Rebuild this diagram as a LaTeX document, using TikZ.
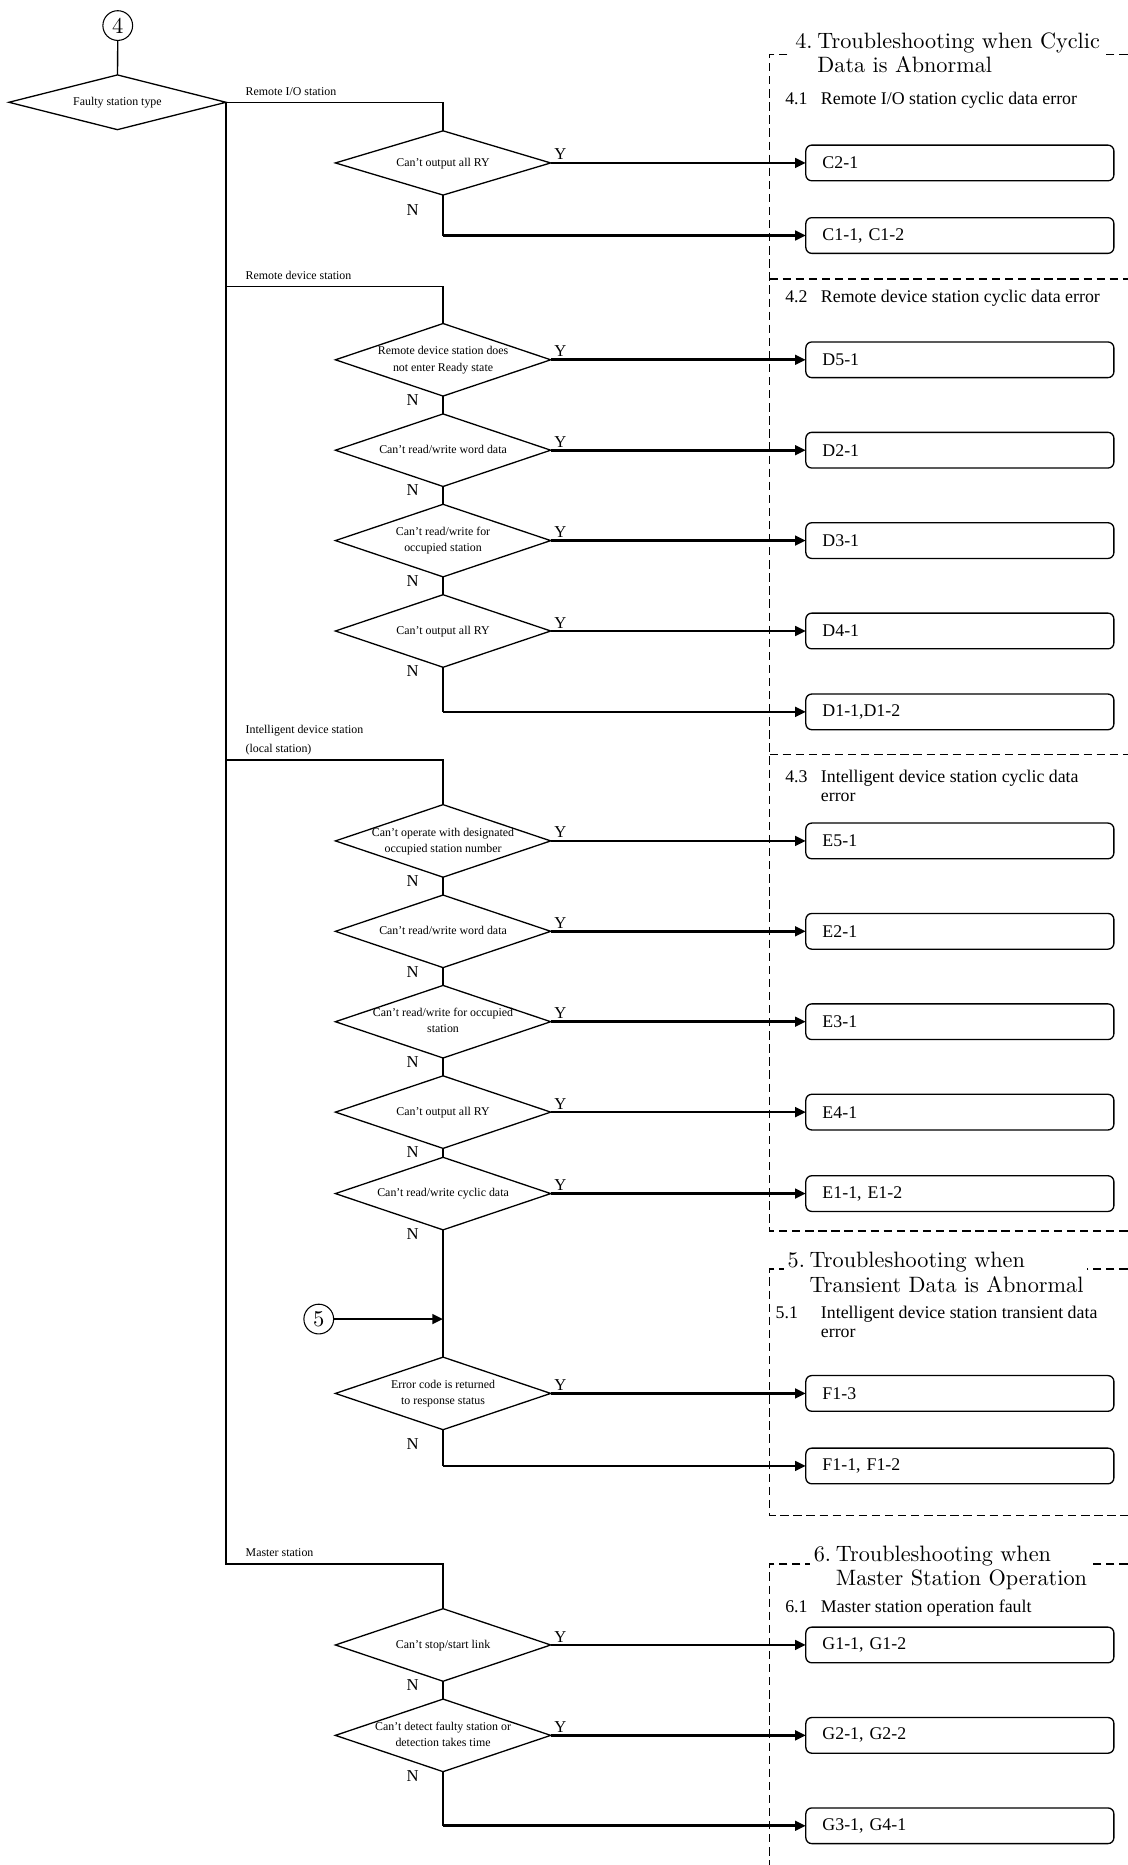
\documentclass[tikz,border=0pt]{standalone}
\usepackage{fontspec}
\newfontfamily\tnr{Liberation Serif}
\newfontfamily\ttlfont{lmroman10-regular}[Extension=.otf]
\usetikzlibrary{arrows.meta,shapes.geometric,positioning}
\newcommand{\dtxt}[1]{\makebox[0pt]{\begin{tabular}{@{}c@{}}#1\end{tabular}}}

\begin{document}
\begin{tikzpicture}[x=1pt, y=-1pt,
        dec/.style={diamond, draw, line width=1.1pt, inner sep=0pt, outer sep=0pt,
          minimum width=181pt, minimum height=61pt, font=\tnr\fontsize{10}{13.5}\selectfont},
        res/.style={draw, line width=1.1pt, rounded corners=5pt, outer sep=0pt,
          text width=231pt, inner xsep=14pt, minimum height=30pt, align=left,
          font=\tnr\fontsize{15}{16}\selectfont},
        num/.style={circle, draw, line width=0.9pt, minimum size=25pt, inner sep=0pt,
          font=\ttlfont\fontsize{19}{19}\selectfont},
        flow/.style={line width=1.1pt},
        yes/.style={line width=2.3pt, -{Triangle[length=9pt, width=8pt]}},
        sec/.style={line width=1.1pt, dash pattern=on 7pt off 4pt},
        ylab/.style={pos=0, anchor=base west, inner sep=0pt, xshift=2pt, yshift=2.5pt,
          font=\tnr\fontsize{14}{14}\selectfont},
        nlab/.style={pos=0, anchor=base east, inner sep=0pt, xshift=-20pt, yshift=-8pt,
          font=\tnr\fontsize{14}{14}\selectfont},
        brlab/.style={pos=0, anchor=base west, inner sep=0pt, xshift=16pt, yshift=6pt,
          font=\tnr\fontsize{10}{16}\selectfont},
        ttl/.style={anchor=base west, fill=white, inner xsep=3pt, inner ysep=2pt,
          font=\ttlfont\fontsize{18.7}{20.5}\selectfont},
        sub/.style={anchor=base west, inner sep=0pt, font=\tnr\fontsize{15}{16}\selectfont}
        ]
        \useasboundingbox (0,0) rectangle (948,1568);
        \coordinate (col) at (677.5,0);

        % troubleshooting sections
        \draw[sec] (948,46) -- (647,46) -- (647,1035) -- (948,1035);
        \draw[sec] (647,234.5) -- (948,234.5);
        \draw[sec] (647,634.5) -- (948,634.5);
        \draw[sec] (948,1067) -- (647,1067) -- (647,1274) -- (948,1274);
        \draw[sec] (948,1315) -- (647,1315) -- (647,1568);
        \node[ttl] (t4) at (665.5,40.5) {\begin{tabular}[t]{@{}l@{\hspace{4pt}}l@{}}4. & Troubleshooting when Cyclic\\ & Data is Abnormal\end{tabular}};
        \node[ttl] (t5) at (659,1066) {\begin{tabular}[t]{@{}l@{\hspace{4pt}}l@{}}5. & Troubleshooting when\\ & Transient Data is Abnormal\end{tabular}};
        \node[ttl] (t6) at (681,1312.5) {\begin{tabular}[t]{@{}l@{\hspace{4pt}}l@{}}6. & Troubleshooting when\\ & Master Station Operation\end{tabular}};
        \node[sub] (s41) at (660,87.7) {\begin{tabular}[t]{@{}p{30pt}@{}l@{}}4.1 & Remote I/O station cyclic data error\end{tabular}};
        \node[sub] (s42) at (660,254.3) {\begin{tabular}[t]{@{}p{30pt}@{}l@{}}4.2 & Remote device station cyclic data error\end{tabular}};
        \node[sub] (s43) at (660,658) {\begin{tabular}[t]{@{}p{30pt}@{}l@{}}4.3 & Intelligent device station cyclic data\\ & error\end{tabular}};
        \node[sub] (s51) at (652,1108.6) {\begin{tabular}[t]{@{}p{38pt}@{}l@{}}5.1 & Intelligent device station transient data\\ & error\end{tabular}};
        \node[sub] (s61) at (660,1356) {\begin{tabular}[t]{@{}p{30pt}@{}l@{}}6.1 & Master station operation fault\end{tabular}};

        % station type
        \node[num] (c4) at (99,21.5) {4};
        \node[dec, minimum width=182.5pt, minimum height=46pt] (fst) at (98.75,86) {\dtxt{Faulty station type}};
        \draw[flow] (c4) -- (fst);

        % remote I/O station
        \node[dec, minimum height=54pt] (rio) at (372.5,137) {\dtxt{Can’t output all RY}};
        \node[res, anchor=west] (c2r) at (rio -| col) {C2-1};
        \node[res, below=31pt of c2r] (c1r) {C1-1, C1-2};
        \coordinate (rion) at (rio.south |- c1r.west);
        \draw[flow] (fst.east) -- node[brlab]{Remote I/O station} (rio.north |- fst.east) -- (rio.north);
        \draw[yes] (rio.east) -- node[ylab]{Y} (c2r.west);
        \draw[flow] (rio.south) -- node[nlab, yshift=-9pt]{N} (rion);
        \draw[yes] (rion) -- (c1r.west);

        % remote device station
        \coordinate (brd) at (372.5,241);
        \node[dec] (d5) at (372.5,302.5) {\dtxt{Remote device station does\\not enter Ready state}};
        \node[dec, below=15pt of d5] (d2) {\dtxt{Can’t read/write word data}};
        \node[dec, below=15pt of d2] (d3) {\dtxt{Can’t read/write for\\occupied station}};
        \node[dec, below=15pt of d3] (d4) {\dtxt{Can’t output all RY}};
        \node[res, anchor=west] (d5r) at (d5 -| col) {D5-1};
        \node[res, anchor=west] (d2r) at (d2 -| col) {D2-1};
        \node[res, anchor=west] (d3r) at (d3 -| col) {D3-1};
        \node[res, anchor=west] (d4r) at (d4 -| col) {D4-1};
        \node[res, below=38pt of d4r] (d1r) {D1-1,D1-2};
        \coordinate (d4n) at (d4.south |- d1r.west);
        \draw[flow] (brd -| fst.east) -- node[brlab]{Remote device station} (brd) -- (d5.north);
        \draw[yes] (d5.east) -- node[ylab]{Y} (d5r.west);
        \draw[yes] (d2.east) -- node[ylab]{Y} (d2r.west);
        \draw[yes] (d3.east) -- node[ylab]{Y} (d3r.west);
        \draw[yes] (d4.east) -- node[ylab]{Y} (d4r.west);
        \draw[flow] (d5.south) -- node[nlab]{N} (d2.north);
        \draw[flow] (d2.south) -- node[nlab]{N} (d3.north);
        \draw[flow] (d3.south) -- node[nlab]{N} (d4.north);
        \draw[flow] (d4.south) -- node[nlab]{N} (d4n);
        \draw[yes] (d4n) -- (d1r.west);

        % intelligent device station
        \coordinate (bre) at (372.5,639);
        \node[dec] (e5) at (372.5,707) {\dtxt{Can’t operate with designated\\occupied station number}};
        \node[dec, below=15pt of e5] (e2) {\dtxt{Can’t read/write word data}};
        \node[dec, below=15pt of e2] (e3) {\dtxt{Can’t read/write for occupied\\station}};
        \node[dec, below=15pt of e3] (e4) {\dtxt{Can’t output all RY}};
        \node[dec, below=7.5pt of e4] (e1) {\dtxt{Can’t read/write cyclic data}};
        \node[res, anchor=west] (e5r) at (e5 -| col) {E5-1};
        \node[res, anchor=west] (e2r) at (e2 -| col) {E2-1};
        \node[res, anchor=west] (e3r) at (e3 -| col) {E3-1};
        \node[res, anchor=west] (e4r) at (e4 -| col) {E4-1};
        \node[res, anchor=west] (e1r) at (e1 -| col) {E1-1, E1-2};
        \draw[flow] (bre -| fst.east) -- node[brlab]{\begin{tabular}[b]{@{}l@{}}Intelligent device station\\(local station)\end{tabular}} (bre) -- (e5.north);
        \draw[yes] (e5.east) -- node[ylab]{Y} (e5r.west);
        \draw[yes] (e2.east) -- node[ylab]{Y} (e2r.west);
        \draw[yes] (e3.east) -- node[ylab]{Y} (e3r.west);
        \draw[yes] (e4.east) -- node[ylab]{Y} (e4r.west);
        \draw[yes] (e1.east) -- node[ylab]{Y} (e1r.west);
        \draw[flow] (e5.south) -- node[nlab]{N} (e2.north);
        \draw[flow] (e2.south) -- node[nlab]{N} (e3.north);
        \draw[flow] (e3.south) -- node[nlab]{N} (e4.north);
        \draw[flow] (e4.south) -- node[nlab]{N} (e1.north);

        % transient data
        \node[dec] (f) at (372.5,1171.5) {\dtxt{Error code is returned\\to response status}};
        \node[num] (c5) at (268,1109) {5};
        \coordinate (j5) at (f |- c5);
        \node[res, anchor=west] (f3r) at (f -| col) {F1-3};
        \node[res, below=31pt of f3r] (f1r) {F1-1, F1-2};
        \coordinate (fn) at (f.south |- f1r.west);
        \draw[flow] (e1.south) -- node[nlab]{N} (f.north);
        \draw[yes] (c5) -- (j5);
        \draw[yes] (f.east) -- node[ylab]{Y} (f3r.west);
        \draw[flow] (f.south) -- node[nlab, yshift=-9pt]{N} (fn);
        \draw[yes] (fn) -- (f1r.west);

        % master station
        \coordinate (brg) at (372.5,1315);
        \node[dec] (g1) at (372.5,1383) {\dtxt{Can’t stop/start link}};
        \node[dec, below=15pt of g1] (g2) {\dtxt{Can’t detect faulty station or\\detection takes time}};
        \node[res, anchor=west] (g1r) at (g1 -| col) {G1-1, G1-2};
        \node[res, anchor=west] (g2r) at (g2 -| col) {G2-1, G2-2};
        \node[res, below=46pt of g2r] (g3r) {G3-1, G4-1};
        \coordinate (g2n) at (g2.south |- g3r.west);
        \draw[flow] (fst.east) -- (fst.east |- brg) -- node[brlab]{Master station} (brg) -- (g1.north);
        \draw[yes] (g1.east) -- node[ylab]{Y} (g1r.west);
        \draw[yes] (g2.east) -- node[ylab]{Y} (g2r.west);
        \draw[flow] (g1.south) -- node[nlab]{N} (g2.north);
        \draw[flow] (g2.south) -- node[nlab]{N} (g2n);
        \draw[yes] (g2n) -- (g3r.west);
      \end{tikzpicture}
\end{document}
